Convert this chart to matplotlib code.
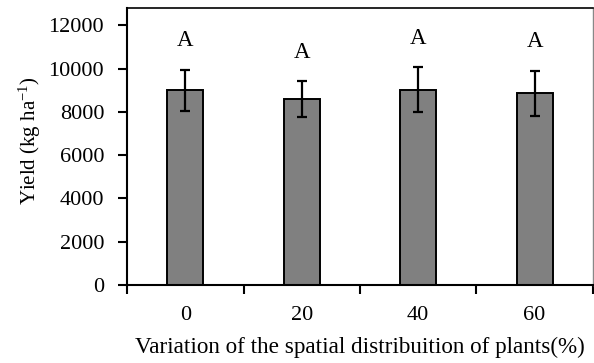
import matplotlib
matplotlib.use('Agg')
import matplotlib.pyplot as plt
import numpy as np

plt.rc('font', family='Liberation Serif')
plt.rcParams['mathtext.fontset'] = 'custom'
plt.rcParams['mathtext.rm'] = 'Liberation Serif'
plt.rcParams['mathtext.it'] = 'Liberation Serif:italic'

categories = ['0', '20', '40', '60']
yields = [9000, 8580, 9030, 8850]
errors = [950, 830, 1030, 1045]
letters = ['A', 'A', 'A', 'A']

fig = plt.figure(figsize=(5.94, 3.63), dpi=100)
ax = fig.add_axes([0.214, 0.215, 0.784, 0.763])

x = np.arange(len(categories))
ax.bar(x, yields, width=0.31, color='#808080', edgecolor='black', linewidth=1.4, zorder=2)
ax.errorbar(x, yields, yerr=errors, fmt='none', ecolor='black', elinewidth=1.6,
            capsize=3.6, capthick=1.6, zorder=3)

for xi, y, e, t in zip(x, yields, errors, letters):
    ax.text(xi, y + e + 850, t, ha='center', va='bottom', fontsize=16.5)

ax.set_xlim(-0.5, 3.5)
ax.set_ylim(0, 12800)
ax.set_yticks(np.arange(0, 12001, 2000))
ax.set_xticks(x)
ax.set_xticklabels(categories)
ax.set_xticks(np.arange(-0.5, 3.6, 1.0), minor=True)
ax.tick_params(axis='x', which='major', length=0, pad=15, labelsize=16)
ax.tick_params(axis='x', which='minor', length=6.5, width=1.5, direction='out')
ax.tick_params(axis='y', length=6.5, width=1.5, direction='out', labelsize=16, pad=10)

for s in ['left', 'bottom']:
    ax.spines[s].set_linewidth(1.5)
ax.spines['top'].set_linewidth(1.2)
ax.spines['right'].set_linewidth(1.0)
ax.spines['right'].set_color('#888888')

ax.set_xlabel('Variation of the spatial distribuition of plants(%)', fontsize=16.7, labelpad=9)
ax.set_ylabel('Yield (kg ha$^{\\mathregular{-1}}$)', fontsize=15, labelpad=8)
ax.yaxis.set_label_coords(-0.18, 0.52)

plt.savefig('out.png', dpi=100)
